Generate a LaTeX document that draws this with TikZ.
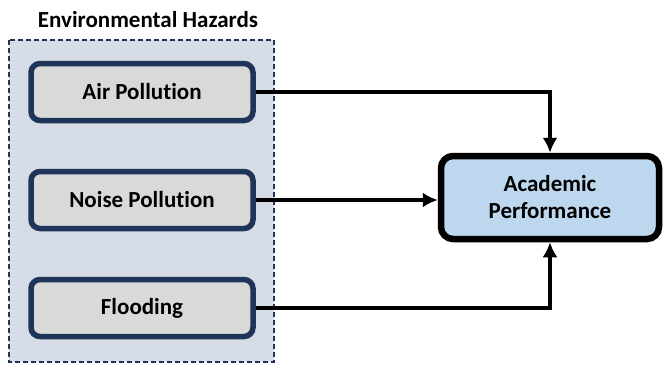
\documentclass[tikz,border=0pt]{standalone}
\usepackage{fontspec}
\setmainfont{Carlito}[Ligatures=NoCommon]
\usetikzlibrary{arrows.meta}
\definecolor{navy}{HTML}{1F3459}
\definecolor{groupfill}{HTML}{D6DCE5}
\definecolor{hazardfill}{HTML}{D9D9D9}
\definecolor{outcomefill}{HTML}{BDD7EE}
\tikzset{
	hazard/.style={draw=navy, line width=5.5pt, fill=hazardfill, rounded corners=9pt,
		minimum width=222pt, minimum height=57pt, font=\fontsize{23}{26}\selectfont\bfseries},
	outcome/.style={draw=black, line width=6.5pt, fill=outcomefill, rounded corners=12pt,
		minimum width=218pt, minimum height=83pt, align=center,
		font=\fontsize{23}{27}\selectfont\bfseries},
}
\begin{document}
\begin{tikzpicture}[x=1pt, y=-1pt, node distance=108pt, >={Latex[length=15pt,width=15pt]}]
	\useasboundingbox (0,0) rectangle (664,365);
	\draw[navy, line width=1.8pt, dash pattern=on 5pt off 3pt, fill=groupfill] (9,40) rectangle (274,362);
	\node (T) at (148,19.5) {\fontsize{23}{26}\selectfont\bfseries Environmental Hazards};
	\node[hazard] (A) at (142,92) {Air Pollution};
	\node[hazard] (N) [below of=A] {Noise Pollution};
	\node[hazard] (F) [below of=N] {Flooding};
	\node[outcome] (P) at (550,197.5) {Academic\\Performance};
	\draw[->, line width=3.5pt] (A) -| (P);
	\draw[->, line width=3.5pt] (N) -- (N -| P.west);
	\draw[->, line width=3.5pt] (F) -| (P);
\end{tikzpicture}
\end{document}
